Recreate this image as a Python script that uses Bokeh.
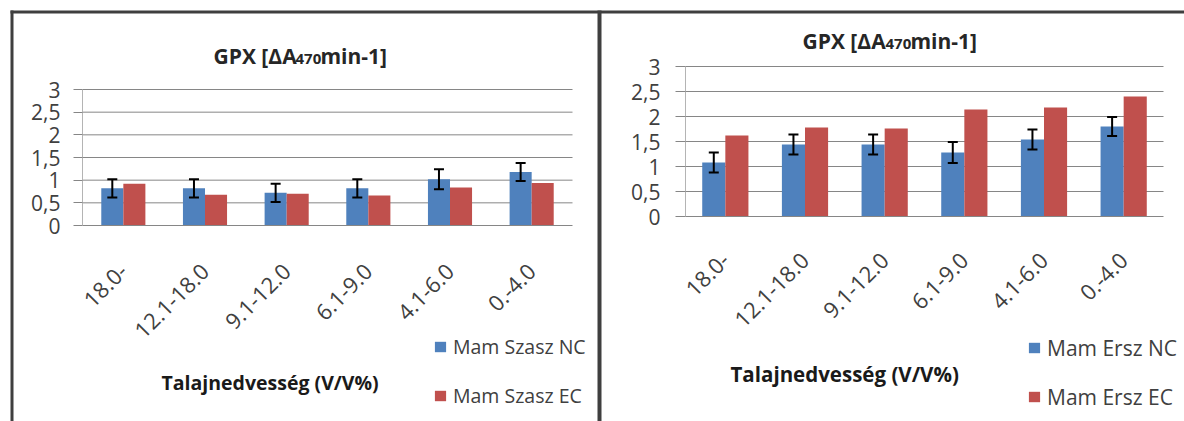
import math
from bokeh.plotting import figure
from bokeh.models import (ColumnDataSource, Range1d, FixedTicker, LinearAxis, Label, Legend,
                          LegendItem, BoxAnnotation)
from bokeh.embed import file_html
from bokeh.resources import INLINE

# ---------------- data ----------------
categories = ["18.0-", "12.1-18.0", "9.1-12.0", "6.1-9.0", "4.1-6.0", "0.-4.0"]

szasz_nc = [0.82, 0.82, 0.72, 0.82, 1.02, 1.18]
szasz_ec = [0.92, 0.68, 0.70, 0.66, 0.84, 0.94]
szasz_nc_err = [0.20, 0.20, 0.20, 0.20, 0.22, 0.20]

ersz_nc = [1.08, 1.44, 1.44, 1.28, 1.54, 1.80]
ersz_ec = [1.62, 1.78, 1.76, 2.14, 2.18, 2.40]
ersz_nc_err = [0.20, 0.20, 0.20, 0.21, 0.20, 0.19]

y_ticks = [0, 0.5, 1, 1.5, 2, 2.5, 3]
y_tick_labels = ["0", "0,5", "1", "1,5", "2", "2,5", "3"]

title_main = "GPX [ΔA"
title_sub = "470"
title_end = "min-1]"
x_title = "Talajnedvesség (V/V%)"
legend_left = ["Mam Szasz NC", "Mam Szasz EC"]
legend_right = ["Mam Ersz NC", "Mam Ersz EC"]

# ---------------- style / layout ----------------
BLUE = "#4F81BD"
RED = "#C0504D"
GRID = "#868686"
FONT = "Open Sans"
BORDER = "#3f3f3f"
W, H = 1184, 421          # canvas size
Y_MAX = 3

# plot areas in canvas pixels (top-down): x_left, x_right, y_zero, y_top
AREA_L = (82, 572, 225, 89)
AREA_R = (685, 1163, 216, 66)


def ranges_for(area, n):
    x0, x1, yz, yt = area
    sx = n / (x1 - x0)
    sy = Y_MAX / (yz - yt)
    xr = Range1d(0 - x0 * sx, 0 + (W - x0) * sx)
    yr = Range1d(0 - (H - yz) * sy, 0 + yz * sy)
    return xr, yr


n = len(categories)
xr_l, yr_l = ranges_for(AREA_L, n)
xr_r, yr_r = ranges_for(AREA_R, n)

p = figure(width=W, height=H, x_range=xr_l, y_range=yr_l, output_backend="svg",
           toolbar_location=None, x_axis_location=None, y_axis_location=None,
           min_border=0, min_border_left=0, min_border_right=0, min_border_top=0,
           min_border_bottom=0)
p.extra_x_ranges = {"r": xr_r}
p.extra_y_ranges = {"r": yr_r}
p.outline_line_color = None
p.background_fill_color = "white"
p.border_fill_color = "white"
p.grid.visible = False


def panel(nc, ec, err, names, rname, bar_w, tick_out, ylab_standoff, xlab_standoff,
          title_xy, title_size, xt_xy, xt_size, leg_xy, leg_size, leg_spacing):
    kw = {} if rname is None else dict(x_range_name=rname, y_range_name=rname)
    xc = [i + 0.5 for i in range(n)]
    src = ColumnDataSource(dict(
        x_nc=[x - bar_w / 2 for x in xc], x_ec=[x + bar_w / 2 for x in xc],
        nc=nc, ec=ec,
        upper=[v + e for v, e in zip(nc, err)],
        lower=[v - e for v, e in zip(nc, err)],
    ))
    # gridlines
    gsrc = ColumnDataSource(dict(y=[t for t in y_ticks if t > 0]))
    p.segment(x0=0, x1=n, y0="y", y1="y", source=gsrc, line_color=GRID, line_width=1, **kw)

    r_nc = p.vbar(x="x_nc", top="nc", width=bar_w, source=src, fill_color=BLUE,
                  line_color=None, **kw)
    r_ec = p.vbar(x="x_ec", top="ec", width=bar_w, source=src, fill_color=RED,
                  line_color=None, **kw)
    # error bars
    p.segment(x0="x_nc", x1="x_nc", y0="lower", y1="upper", source=src,
              line_color="black", line_width=2, **kw)
    p.scatter(x="x_nc", y="upper", marker="dash", size=10, line_color="black",
              line_width=2, source=src, **kw)
    p.scatter(x="x_nc", y="lower", marker="dash", size=10, line_color="black",
              line_width=2, source=src, **kw)

    # axes
    yax = LinearAxis(fixed_location=0, bounds=(0, Y_MAX), ticker=FixedTicker(ticks=y_ticks),
                     **kw)
    yax.major_label_overrides = {t: l for t, l in zip(y_ticks, y_tick_labels)}
    yax.axis_line_color = "#b4b4b4"
    yax.major_tick_line_color = GRID
    yax.major_tick_out = tick_out
    yax.major_tick_in = 0
    yax.minor_tick_line_color = None
    yax.major_label_standoff = ylab_standoff
    yax.major_label_text_font = FONT
    yax.major_label_text_font_size = "21px"
    yax.major_label_text_color = "#404040"
    p.add_layout(yax, "left")

    xax = LinearAxis(fixed_location=0, bounds=(0, n), ticker=FixedTicker(ticks=xc), **kw)
    xax.major_label_overrides = {x: c for x, c in zip(xc, categories)}
    xax.axis_line_color = GRID
    xax.major_tick_line_color = None
    xax.major_tick_out = 0
    xax.major_tick_in = 0
    xax.minor_tick_line_color = None
    xax.major_label_orientation = math.pi / 4
    xax.major_label_standoff = xlab_standoff
    xax.major_label_text_font = FONT
    xax.major_label_text_font_size = "22px"
    xax.major_label_text_color = "#404040"
    p.add_layout(xax, "below")

    # title pieces (screen units, origin bottom-left of canvas)
    (tx0, tx1, tx2, ty, tys) = title_xy
    for txt, x, y, size in [(title_main, tx0, ty, title_size), (title_sub, tx1, tys, "15px"),
                            (title_end, tx2, ty, title_size)]:
        p.add_layout(Label(x=x, y=y, x_units="screen", y_units="screen", text=txt,
                           text_font=FONT, text_font_style="bold", text_font_size=size,
                           text_color="#262626", text_baseline="alphabetic",
                           text_align="left"))

    # x-axis title
    p.add_layout(Label(x=xt_xy[0], y=xt_xy[1], x_units="screen", y_units="screen",
                       text=x_title, text_font=FONT, text_font_style="bold",
                       text_font_size=xt_size, text_color="#1a1a1a",
                       text_baseline="middle", text_align="left"))

    legend = Legend(items=[LegendItem(label=names[0], renderers=[r_nc]),
                           LegendItem(label=names[1], renderers=[r_ec])],
                    location=leg_xy, orientation="vertical",
                    glyph_width=14, glyph_height=13, label_height=13, label_standoff=6,
                    spacing=leg_spacing, padding=0, margin=0,
                    border_line_color=None, background_fill_alpha=0,
                    label_text_font=FONT, label_text_font_size=leg_size,
                    label_text_color="#404040", label_text_baseline="middle")
    p.add_layout(legend)


panel(szasz_nc, szasz_ec, szasz_nc_err, legend_left, None, bar_w=0.27, tick_out=9,
      ylab_standoff=13, xlab_standoff=42,
      title_xy=(213, 295, 320, 366, 363), title_size="21px",
      xt_xy=(161, 39), xt_size="19.5px",
      leg_xy=(433, 12), leg_size="19.5px", leg_spacing=22)
panel(ersz_nc, ersz_ec, ersz_nc_err, legend_right, "r", bar_w=0.29, tick_out=10,
      ylab_standoff=15, xlab_standoff=40,
      title_xy=(802, 885, 910, 381, 378), title_size="21px",
      xt_xy=(730, 48), xt_size="20.5px",
      leg_xy=(1027, 10.5), leg_size="21px", leg_spacing=21)

# panel frame lines (screen units, origin bottom-left)
for (l, r, b, t) in [(10, W, 408, 411), (10, 13, 0, 411), (597, 601, 0, 411)]:
    p.add_layout(BoxAnnotation(left=l, right=r, bottom=b, top=t,
                               left_units="screen", right_units="screen",
                               bottom_units="screen", top_units="screen",
                               fill_color=BORDER, fill_alpha=1, line_color=None,
                               level="overlay"))

open("out.html", "w").write(file_html(p, INLINE))
